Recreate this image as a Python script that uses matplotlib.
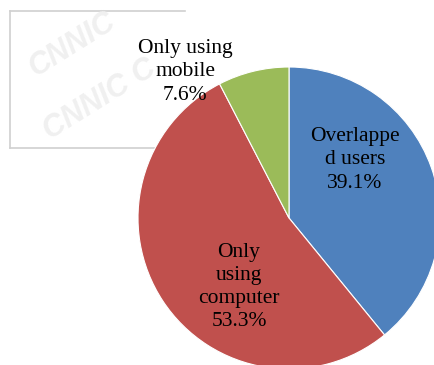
import matplotlib
matplotlib.use("Agg")
import matplotlib.pyplot as plt
from matplotlib.lines import Line2D

# share of internet users by access device
categories = ["Overlappe\nd users", "Only\nusing\ncomputer", "Only using\nmobile"]
shares = [39.1, 53.3, 7.6]
colors = ["#4F81BD", "#C0504D", "#9BBB59"]

W, H = 434, 365
fig = plt.figure(figsize=(W / 100, H / 100), dpi=100)
ax = fig.add_axes([0, 0, 1, 1])

# grey frame and faint logo watermark behind the pie
frame_kw = dict(color="#d0d0d0", lw=1.2, zorder=0)
ax.add_line(Line2D([10, 185], [H - 11, H - 11], **frame_kw))
ax.add_line(Line2D([10, 10], [H - 11, H - 148], **frame_kw))
ax.add_line(Line2D([10, 160], [H - 148, H - 148], **frame_kw))
wm = dict(color="#f0f0f0", fontsize=22, fontweight="bold", fontstyle="italic",
          rotation=32, ha="center", va="center", zorder=0, family="Liberation Sans")
ax.text(72, H - 45, "CNNIC", **wm)
ax.text(100, H - 100, "CNNIC C", **wm)

cx, cy, r = 289, H - 218, 151
ax.pie(shares, colors=colors, startangle=90, counterclock=False,
       center=(cx, cy), radius=r, frame=True,
       wedgeprops=dict(edgecolor="white", linewidth=0.8))
ax.set_xlim(0, W)
ax.set_ylim(0, H)
ax.set_aspect("equal")
ax.axis("off")

# label centres relative to the pie centre
label_offsets = [(66, 58), (-50, -69), (-104, 146)]
for name, val, (dx, dy) in zip(categories, shares, label_offsets):
    ax.text(cx + dx, cy + dy, f"{name}\n{val:.1f}%", ha="center", va="center",
            family="Liberation Serif", fontsize=15.5, linespacing=1.3,
            color="black")

fig.savefig("out.png", dpi=100)
